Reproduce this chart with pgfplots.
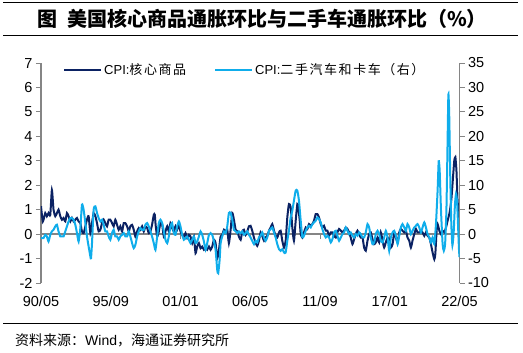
\documentclass[border=0pt]{standalone}
\usepackage{pgfplots}
\pgfplotsset{compat=1.18}
\usepackage{pgfplotstable}
\usepackage{fontspec}
\setmainfont{Liberation Sans}
\newfontfamily\cjk{Noto Sans CJK SC}
\newfontfamily\cjkls[LetterSpace=12]{Noto Sans CJK SC}
\definecolor{navy}{HTML}{0B2263}
\definecolor{lblue}{HTML}{0FADEB}
\definecolor{axgray}{HTML}{858585}

% CPI: core goods, m/m %, x = months since 1990/05
\pgfplotstableread{
x y
0 1.14
1.7 0.52
3.9 0.86
5.4 0.73
6.9 0.86
8.5 0.79
10.0 1.80
11.5 1.0
13.1 0.73
14.6 0.86
16.1 1.0
17.7 0.73
19.2 0.59
20.7 0.66
22.3 0.52
23.8 0.86
25.3 0.73
26.9 0.52
28.4 0.66
29.9 0.52
31.5 0.59
33.0 0.66
34.5 0.52
36.1 0.45
37.6 0.11
39.1 0.04
40.7 0.32
42.2 0.59
43.7 0.73
45.3 0.04
46.8 0.45
48.3 0.86
49.9 0.73
51.4 0.45
52.9 0.11
54.5 0.18
56.0 0.45
57.5 0.59
59.0 0.45
60.6 0.32
62.1 0.59
63.6 0.59
65.2 0.45
66.7 0.32
68.2 0.59
69.8 0.38
71.3 0.18
72.8 0.32
74.4 0.11
75.9 0.45
77.4 0.45
79.0 0.32
80.5 0.11
82.0 0.32
83.6 0.38
85.1 0.18
86.6 -0.10
88.2 0.11
89.7 0.25
91.2 0.18
92.8 0.32
94.3 0.11
95.8 0.32
97.4 0.25
98.9 0.04
100.4 0.11
101.9 0.38
103.5 0.79
104.4 0.79
105.3 0.32
106.6 -0.10
108.1 0.11
109.6 0.45
111.2 0.38
112.7 -0.10
114.2 0.11
115.8 0.32
117.3 0.11
118.8 0.45
120.3 0.25
121.9 0.11
123.4 0.32
124.9 0.18
126.5 0.38
128.0 0.11
129.5 -0.03
131.1 -0.10
132.6 0.04
134.1 -0.16
135.7 -0.03
137.2 -0.10
138.7 -0.37
140.3 -0.10
141.8 -0.78
143.3 -0.51
144.9 -0.37
146.4 -0.58
147.9 -0.51
149.5 -0.64
151.0 -0.58
152.5 -0.64
154.1 -0.51
155.6 -0.64
157.1 -0.51
158.7 -0.23
160.2 -0.37
161.7 -0.99
163.3 -0.64
164.8 -0.10
166.3 -0.03
167.9 0.18
169.4 0.11
170.9 0.18
172.4 -0.37
174.0 0.18
175.5 0.86
177.0 0.59
178.6 0.18
180.1 0.11
181.6 -0.10
183.2 -0.23
184.7 0.11
186.2 0.18
187.8 -0.03
189.3 0.11
190.8 0.32
192.3 0.34
193.8 0.14
195.4 -0.14
196.9 -0.34
198.4 -0.48
200.0 -0.27
201.5 0.07
203.0 -0.07
204.6 -0.27
206.1 -0.14
207.6 -0.07
209.2 0.14
210.7 0.27
212.2 0.41
213.8 0.14
215.3 -0.07
216.8 -0.14
218.4 0.07
219.9 0.14
221.4 -0.27
223.0 -0.55
224.5 -0.27
226.0 0.68
227.5 1.23
229.1 1.10
230.6 0.27
232.1 -0.27
233.7 0.55
235.2 1.23
236.1 1.10
237.4 0.55
238.3 0
239.8 -0.14
241.3 0.07
242.9 0.27
244.4 0.21
245.9 0.41
247.5 0.34
249.0 0.41
250.5 0.55
252.1 0.82
253.6 0.82
255.1 0.68
256.7 0.41
258.2 0.27
259.7 0.34
261.3 0.14
262.8 0.14
264.3 -0.07
265.9 0.07
267.4 0.07
268.9 -0.07
270.5 -0.14
272.0 0.07
273.5 0.21
275.1 0.14
276.6 0.07
278.1 0.14
279.6 0.27
281.2 0.21
282.7 0.07
284.2 -0.14
285.8 -0.41
287.3 -0.21
288.8 0
290.4 0.14
291.9 0
293.4 -0.14
295.0 -0.14
296.5 -0.55
298.0 -0.68
299.6 -0.27
301.1 0
302.6 0.07
304.2 -0.21
305.7 -0.41
307.2 -0.34
308.8 -0.14
310.3 -0.34
311.8 0.07
313.4 -0.27
314.9 -0.55
316.4 -0.34
318.0 -0.14
319.5 -0.21
321.0 -0.55
322.6 -0.41
324.1 0.07
325.6 -0.14
327.2 -0.34
328.7 0.07
330.2 0.21
331.7 0.14
333.3 0.07
334.8 0.14
336.3 -0.14
337.9 -0.27
339.4 -0.55
340.9 -0.27
342.5 0
344.0 0.21
345.5 0.07
347.1 0.07
348.6 0.14
350.1 0.07
351.7 -0.07
353.2 0.07
354.7 -0.07
356.3 -0.14
357.8 -0.41
359.3 -0.75
360.9 -1.03
361.8 -0.82
363.0 0.14
363.9 0.41
365.5 0.14
367.0 0
368.5 0.14
370.1 0.07
371.6 0.27
373.1 0.55
375.0 0.9
376.5 1.4
378.0 2.3
379.2 3.0
380.2 3.15
381.2 2.6
382.2 1.4
383.2 0.9
384.0 0.25
}\navydata

% CPI: used cars and trucks, m/m % (right axis)
\pgfplotstableread{
x y
0 -0.82
2.3 -0.82
3.9 -0.14
5.4 -0.48
6.9 -1.51
8.5 -0.14
10.0 0.55
11.5 0.89
13.1 1.58
14.6 1.92
16.1 0.55
17.7 -0.48
19.2 -0.48
20.7 -0.48
22.3 0.55
23.8 1.58
25.3 2.60
26.9 3.29
28.4 3.29
29.9 2.95
31.5 1.92
33.0 0.21
34.5 -1.51
36.1 1.23
37.6 6.03
39.1 5.0
40.7 2.26
42.2 -0.48
43.7 -2.53
45.3 -4.59
45.9 -4.93
46.8 -1.85
48.3 5.0
49.9 5.68
51.4 4.32
52.9 3.29
54.5 2.60
56.0 2.95
57.5 1.92
59.0 0.55
60.6 0.55
62.1 -0.48
63.6 -1.16
65.2 0.21
66.7 0.89
68.2 -0.48
69.8 -0.48
71.3 -1.16
72.8 -0.48
74.4 -0.14
75.9 0.21
77.4 -0.48
79.0 -0.48
80.5 0.55
82.0 -0.48
83.6 -1.85
85.1 -2.88
86.6 -2.19
88.2 -0.48
89.7 0.55
91.2 1.23
92.8 0.89
94.3 0.89
95.8 1.92
97.4 2.26
98.9 1.58
100.4 0.55
101.9 -0.48
103.5 -1.85
105.0 -3.22
106.6 -0.48
108.1 2.26
109.6 2.95
111.2 2.26
112.7 0.55
114.2 -1.16
115.8 -1.85
117.3 -0.48
118.8 1.58
120.3 2.26
121.9 0.21
123.4 -0.14
124.9 1.58
126.5 2.60
128.0 1.58
129.5 -0.14
131.1 -1.16
132.6 -0.82
134.1 -0.48
135.7 -1.16
137.2 -1.85
138.7 -1.16
140.3 -0.48
141.8 -1.85
143.3 -1.51
144.9 -0.48
146.4 0.55
147.9 -0.14
149.5 -1.51
151.0 -3.22
152.5 -1.85
154.1 -0.14
155.6 0.21
157.1 -0.14
158.7 -1.51
160.2 -3.22
161.7 -7.33
162.6 -8.01
163.9 -5.27
164.8 -1.85
166.3 -0.48
167.9 0.55
169.4 0.21
170.9 1.58
172.4 4.32
174.0 4.32
175.5 2.95
177.0 0.89
178.6 0.55
180.1 0.21
181.6 0.55
183.2 0.21
184.7 0.55
186.2 -0.14
187.8 0.21
189.3 0.55
190.8 -0.14
192.3 -0.68
193.8 -1.37
195.4 -2.05
196.9 -1.37
198.4 -1.71
200.0 -0.68
201.5 -0.34
203.0 0.34
204.6 -0.68
206.1 -1.37
207.6 -0.68
209.2 0.68
210.7 1.03
212.2 1.37
213.8 0.34
215.3 -0.68
216.8 -2.05
218.4 -3.08
219.9 -3.42
221.4 -3.08
223.0 -3.77
224.5 -3.77
226.0 -1.37
227.5 0.68
229.1 3.42
230.6 4.79
232.1 6.85
233.7 8.90
235.2 8.90
236.7 6.85
238.3 2.74
239.8 -0.68
241.3 -0.34
242.9 0.68
244.4 1.37
245.9 1.71
247.5 1.37
249.0 2.05
250.5 2.40
252.1 2.74
253.6 3.42
255.1 3.08
256.7 2.40
258.2 1.03
259.7 0
261.3 -0.68
262.8 -0.34
264.3 -0.68
265.9 -1.71
267.4 -1.03
268.9 0.34
270.5 0.68
272.0 -0.34
273.5 -1.37
275.1 -0.68
276.6 0
278.1 0.34
279.6 1.37
281.2 0.68
282.7 0
284.2 0.34
285.8 -0.34
287.3 -0.68
288.8 0
290.4 -0.34
291.9 0.34
293.4 0
295.0 -0.68
296.5 -0.68
298.0 0.34
299.6 2.05
301.1 1.37
302.6 -0.68
304.2 -2.05
305.7 -1.71
307.2 0
308.8 0.68
310.3 0
311.8 -1.37
313.4 -1.71
314.9 -0.68
316.4 0.68
318.0 -0.68
319.5 -3.42
321.0 -0.68
322.6 0.34
324.1 0.68
325.6 -0.34
327.2 -2.05
328.7 -0.34
330.2 1.37
331.7 2.05
333.3 1.37
334.8 0.68
336.3 2.05
337.9 1.37
339.4 0
340.9 0.68
342.5 1.37
344.0 1.71
345.5 2.05
347.1 1.37
348.6 0.34
350.1 1.37
351.7 2.40
353.2 1.37
354.7 0
356.3 -0.68
357.8 -1.71
359.3 -0.68
360.9 -2.05
362.4 2.05
363.9 8.9
364.9 14.9
365.8 13.0
367.0 5.0
368.5 -2.0
369.6 -3.4
370.8 -2.0
372.0 5.0
373.0 18.0
373.8 28.6
374.6 24.0
375.5 12.0
376.5 2.0
377.5 -2.3
378.7 0.5
379.8 6.0
380.8 8.2
381.8 6.5
382.8 1.0
383.5 -3.0
384.0 -4.7
}\lbdata

\begin{document}
\begin{tikzpicture}
\useasboundingbox (0,0) rectangle (523pt,-353pt);
% frame lines, title, source
\draw[line width=0.9pt] (3pt,-2pt) -- (518pt,-2pt);
\draw[line width=0.9pt] (3pt,-35pt) -- (518pt,-35pt);
\draw[line width=0.9pt] (3pt,-323pt) -- (518pt,-323pt);
\node[anchor=center, inner sep=0pt] at (262pt,-18.5pt) {\fontsize{20}{20}\selectfont\cjk\bfseries 图\hspace{10pt}美国核心商品通胀环比与二手车通胀环比（\%）};
\node[anchor=west, inner sep=0pt] at (15pt,-340pt) {\fontsize{14}{14}\selectfont\cjk 资料来源：\rmfamily Wind\cjk ，海通证券研究所};

\pgfplotsset{
  common/.style={
    at={(41pt,-283pt)}, anchor=south west, scale only axis,
    width=418.5pt, height=220pt, xmin=0, xmax=384,
  }
}
% zero line with tick marks
\begin{axis}[common, ymin=-2, ymax=7,
  axis x line=middle, axis y line=none,
  x axis line style={-, draw=axgray, line width=1.6pt},
  xtick={0,64,...,384}, xticklabels={},
  xtick style={draw=axgray, line width=1pt},
  xtick align=outside, major tick length=5pt,
]
\end{axis}
% left axis: core goods
\begin{axis}[common, ymin=-2, ymax=7,
  axis y line*=left, axis x line*=bottom,
  x axis line style={draw=none},
  y axis line style={-, draw=axgray, line width=1.6pt},
  xtick={0,64,128,192,256,320,384},
  xticklabels={90/05,95/09,01/01,06/05,11/09,17/01,22/05},
  xtick style={draw=none},
  xticklabel style={yshift=-4pt},
  ytick={-2,-1,...,7},
  ytick style={draw=axgray, line width=1pt},
  tick align=outside, major tick length=5pt,
  tick label style={font=\fontsize{14.5}{14.5}\selectfont},
  /pgf/number format/assume math mode=true,
]
\addplot[navy, line width=2pt, smooth, tension=0.35] table {\navydata};
\end{axis}
% right axis: used cars
\begin{axis}[common, ymin=-10, ymax=35,
  axis y line*=right, axis x line=none,
  y axis line style={-, draw=axgray, line width=1.6pt},
  ytick={-10,-5,...,35},
  ytick style={draw=axgray, line width=1pt},
  tick align=outside, major tick length=5pt,
  tick label style={font=\fontsize{14.5}{14.5}\selectfont},
  /pgf/number format/assume math mode=true,
  legend columns=2,
  legend cell align=left,
  legend image code/.code={\draw[#1] (0pt,0pt) -- (37pt,0pt);},
  legend style={at={(0.0526,0.968)}, anchor=west, draw=none, fill=none,
    inner sep=0pt, nodes={inner sep=2pt},
    font=\fontsize{13}{13}\selectfont,
    /tikz/every even column/.append style={column sep=26pt}},
]
\addlegendimage{navy, line width=2pt}
\addlegendentry{CPI:{\cjkls 核心商品}}
\addplot[lblue, line width=2pt, smooth, tension=0.35] table {\lbdata};
\addlegendentry{CPI:{\cjkls 二手汽车和卡车（右）}}
\end{axis}
\end{tikzpicture}
\end{document}
